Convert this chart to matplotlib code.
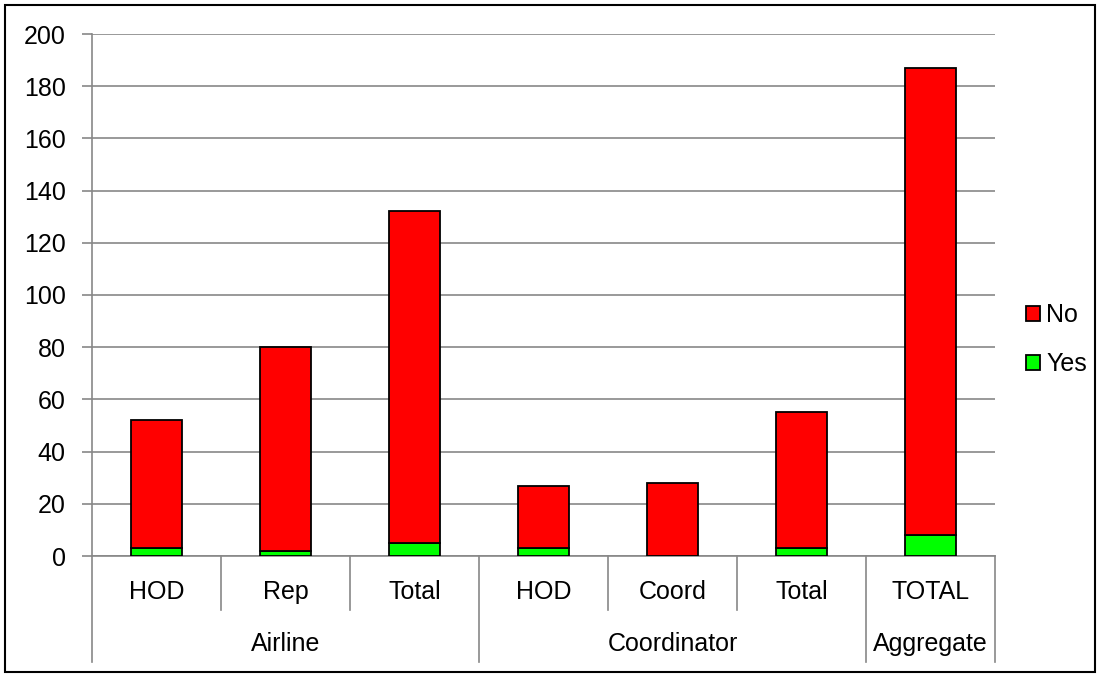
import matplotlib
matplotlib.use("Agg")
import matplotlib.pyplot as plt
from matplotlib.patches import Rectangle
from matplotlib.transforms import blended_transform_factory
import numpy as np

categories = ["HOD", "Rep", "Total", "HOD", "Coord", "Total", "TOTAL"]
groups = ["Airline", "Coordinator", "Aggregate"]
group_sizes = [3, 3, 1]
yes_vals = [3, 2, 5, 3, 0, 3, 8]
no_vals = [49, 78, 127, 24, 28, 52, 179]
yticks = [0, 20, 40, 60, 80, 100, 120, 140, 160, 180, 200]

plt.rcParams["font.family"] = ["Liberation Sans", "DejaVu Sans"]
W, H = 1101, 675
fs = 18
fig = plt.figure(figsize=(W / 100, H / 100), dpi=100)
ax = fig.add_axes([92 / W, 1 - 556 / H, (995 - 92) / W, (556 - 34) / H])

grid_col = "#878787"
x = np.arange(len(categories))
ax.bar(x, yes_vals, 0.4, color="#00FF00", edgecolor="black", linewidth=1.3,
       label="Yes", zorder=3)
ax.bar(x, no_vals, 0.4, bottom=yes_vals, color="#FF0000", edgecolor="black",
       linewidth=1.3, label="No", zorder=3)

ax.set_xlim(-0.5, len(categories) - 0.5)
ax.set_ylim(0, 200)
ax.set_yticks(yticks)
ax.tick_params(axis="y", labelsize=fs, length=7, width=1.2, color=grid_col, pad=12)
ax.set_xticks([])
ax.yaxis.grid(True, color=grid_col, linewidth=1.2)
ax.set_axisbelow(True)
for s in ["top", "right"]:
    ax.spines[s].set_visible(False)
for s in ["left", "bottom"]:
    ax.spines[s].set_color(grid_col)
    ax.spines[s].set_linewidth(1.2)

# multi-level category axis
tr = blended_transform_factory(ax.transData, fig.transFigure)
y_base = 1 - 556 / H
y_inner = 1 - 610 / H
y_outer = 1 - 662 / H
for i, c in enumerate(categories):
    ax.text(i, 1 - 592 / H, c, transform=tr, ha="center", va="center", fontsize=fs)
start = 0
bounds = [0]
for g, n in zip(groups, group_sizes):
    ax.text(start + n / 2 - 0.5, 1 - 644 / H, g, transform=tr, ha="center",
            va="center", fontsize=fs)
    for k in range(1, n):
        ax.plot([start + k - 0.5] * 2, [y_base, y_inner], transform=tr,
                color=grid_col, lw=1.2, clip_on=False)
    start += n
    bounds.append(start)
for b in bounds:
    ax.plot([b - 0.5] * 2, [y_base, y_outer], transform=tr, color=grid_col,
            lw=1.2, clip_on=False)

handles, labels = ax.get_legend_handles_labels()
fig.legend(handles[::-1], labels[::-1], loc="center left",
           bbox_to_anchor=(1026 / W, 1 - 340 / H), frameon=False, fontsize=fs,
           borderpad=0, borderaxespad=0,
           handlelength=0.55, handleheight=0.55, handletextpad=0.25,
           labelspacing=1.0)

fig.patches.append(Rectangle((5 / W, 3 / H), (1095 - 5) / W, (670 - 3) / H,
                             transform=fig.transFigure, fill=False,
                             edgecolor="black", linewidth=1.5))

fig.savefig("out.png", dpi=100)
